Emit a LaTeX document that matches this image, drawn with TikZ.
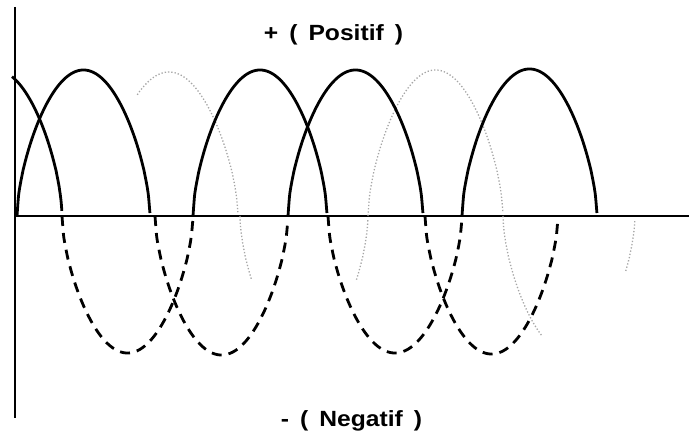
\documentclass[tikz,border=0pt]{standalone}
\usepackage{fontspec}
\setmainfont{Liberation Sans}
\newfontfamily\lblfont[FakeStretch=1.12]{Liberation Sans}
\newcommand{\myarc}[6]{%
  \draw[#1] plot[domain=#5:#6, samples=90, variable=\t, smooth]
    ({#2+(#3-#2)*\t},{216-(#4)*pow(abs(sin(180*\t))+0.000001,0.6)});}
\newcommand{\widesp}[1]{\spaceskip=11pt\relax #1}
\begin{document}
\begin{tikzpicture}[x=1pt,y=-1pt,
  axisline/.style={line width=2.4pt, black},
  poshalf/.style={line width=2.8pt, black},
  neghalf/.style={line width=2.8pt, black, dash pattern=on 10pt off 7pt},
  faint/.style={line width=1.3pt, black!35, dotted},
  lbl/.style={font=\lblfont\bfseries\fontsize{22}{26}\selectfont, inner sep=0pt, anchor=base}]
\useasboundingbox (0,0) rectangle (689,436);
% axes
\coordinate (vtop) at (15,7);
\coordinate (vbot) at (15,418);
\coordinate (orig) at (15,216);
\coordinate (hend) at (689,216);
\draw[axisline] (vtop) -- (vbot);
\draw[axisline, line width=2.2pt] (orig) -- (hend);
% faint third phase
\myarc{faint}{100}{238}{144}{0.27}{1}
\myarc{faint}{240}{368}{-137}{0}{0.09}
\myarc{faint}{240}{368}{-137}{0.91}{1}
\myarc{faint}{368}{503}{146}{0}{1}
\myarc{faint}{503}{635}{-137}{0}{0.3}
\myarc{faint}{503}{635}{-137}{0.93}{1}
% solid positive halves
\myarc{poshalf}{-71}{62}{146}{0.624}{1}
\myarc{poshalf}{17}{150}{146}{0}{1}
\myarc{poshalf}{193}{327}{146}{0}{1}
\myarc{poshalf}{288}{423}{146}{0}{1}
\myarc{poshalf}{462}{597}{147}{0}{1}
% dashed negative halves
\myarc{neghalf}{62}{193}{-137}{0}{1}
\myarc{neghalf}{155}{288}{-139}{0}{1}
\myarc{neghalf}{328}{462}{-137}{0}{1}
\myarc{neghalf}{425}{558}{-138}{0}{1}
% labels
\node[lbl] (plus) at (333.5,40.7) {\widesp{+ ( Positif )}};
\node[lbl] (minus) at (351.5,426.7) {\widesp{- ( Negatif )}};
\end{tikzpicture}
\end{document}
